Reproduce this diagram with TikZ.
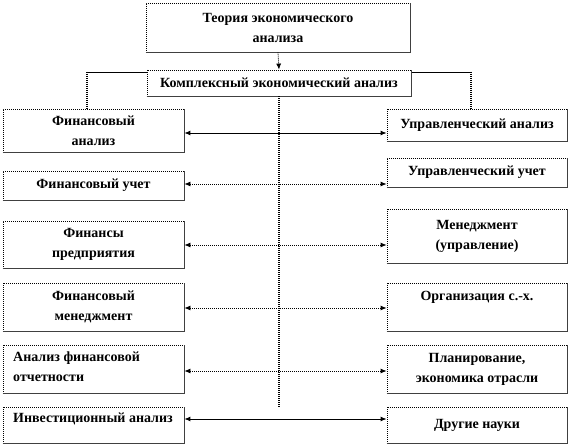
\documentclass[tikz,border=0pt]{standalone}
\usepackage{fontspec}
\setmainfont{Liberation Serif}
\usetikzlibrary{arrows.meta,calc}
\begin{document}
\begin{tikzpicture}[x=1pt,y=-1pt,
  bx/.style={draw=black,line width=0.8pt,dash pattern=on 1pt off 1pt,fill=white,inner sep=0pt,
    font=\fontsize{14}{20}\selectfont\bfseries,align=center},
  lbox/.style={bx,minimum width=181pt},
  rbox/.style={bx,minimum width=180pt},
  txt/.style={inner sep=0pt,font=\fontsize{14}{20}\selectfont\bfseries,align=left},
  dotline/.style={line width=1.3pt,dash pattern=on 1pt off 1pt},
  fineline/.style={line width=0.8pt,dash pattern=on 1pt off 1pt},
  solidline/.style={line width=0.9pt},
  biarrow/.style={{Latex[length=6pt,width=5pt]}-{Latex[length=6pt,width=5pt]}}
]
\useasboundingbox (0,0) rectangle (570,446);

% top frame lines
\coordinate (hl) at (87,72);
\coordinate (hr) at (471,72);
\coordinate (cend) at (279,408);
\draw[solidline] (hl) -- (hr);

% boxes
\node[bx,minimum width=264pt,minimum height=49pt] (top) at (278,27.5) {Теория экономического\\анализа};
\node[bx,minimum width=264pt,minimum height=26pt] (kea) at (279,83) {Комплексный экономический анализ};

\node[lbox,minimum height=43pt] (fa) at (93.5,130.5) {Финансовый\\анализ};
\node[lbox,minimum height=29pt] (fu) at (93.5,185.5) {Финансовый учет};
\node[lbox,minimum height=47pt] (fp) at (93.5,244.5) {Финансы\\предприятия};
\node[lbox,minimum height=48pt] (fm) at (93.5,307) {Финансовый\\менеджмент};
\node[lbox,minimum height=48pt] (afo) at (93.5,369) {};
\node[lbox,minimum height=36pt] (ia) at (93.5,425) {};

\node[rbox,minimum height=32pt] (ua) at (477,125) {Управленческий анализ};
\node[rbox,minimum height=29pt] (uu) at (477,172.5) {Управленческий учет};
\node[rbox,minimum height=54pt] (me) at (477,236) {Менеджмент\\(управление)};
\node[rbox,minimum height=48pt] (org) at (477,307) {};
\node[rbox,minimum height=48pt] (pl) at (477,369) {Планирование,\\экономика отрасли};
\node[rbox,minimum height=36pt] (dn) at (477,425) {Другие науки};

% off-centre texts
\node[txt,anchor=west] (afot) at (13,367) {Анализ финансовой\\отчетности};
\node[txt,anchor=west] (iat) at (13,419) {Инвестиционный анализ};
\node[txt] (orgt) at (477,297) {Организация с.-х.};

% solid bottom and right edges
\foreach \n in {top,kea,fa,fu,fp,fm,afo,ia,ua,uu,me,org,pl,dn}{
  \draw[line width=0.9pt,black!75] (\n.south west) -- (\n.south east) -- (\n.north east);
}

% verticals
\draw[dotline] (hl) -- (hl |- fa.north);
\draw[dotline] (hr) -- (hr |- ua.north);
\draw[fineline,-{Latex[length=6pt,width=5pt]}] (top.south) -- (kea.north);
\draw[dotline] (kea.south) -- (cend);

% horizontal connectors
\coordinate (r1) at (279,133);
\coordinate (r2) at (279,184);
\coordinate (r3) at (279,245);
\coordinate (r4) at (279,308);
\coordinate (r5) at (279,371);
\coordinate (r6) at (279,419);
\draw[solidline,biarrow] (r1 -| fa.east) -- (r1 -| ua.west);
\draw[fineline,biarrow] (r2 -| fu.east) -- (r2 -| uu.west);
\draw[fineline,biarrow] (r3 -| fp.east) -- (r3 -| me.west);
\draw[fineline,biarrow] (r4 -| fm.east) -- (r4 -| org.west);
\draw[fineline,biarrow] (r5 -| afo.east) -- (r5 -| pl.west);
\draw[solidline,biarrow] (r6 -| ia.east) -- (r6 -| dn.west);
\end{tikzpicture}
\end{document}
